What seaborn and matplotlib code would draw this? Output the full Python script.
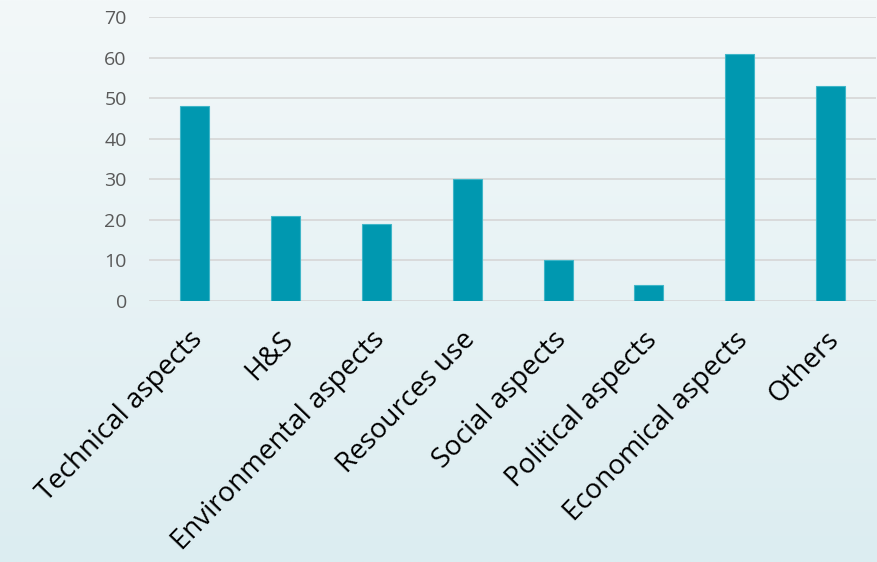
import numpy as np
import pandas as pd
import seaborn as sns
from matplotlib import pyplot as plt
from matplotlib.transforms import ScaledTranslation

categories = ["Technical aspects", "H&S", "Environmental aspects", "Resources use",
              "Social aspects", "Political aspects", "Economical aspects", "Others"]
values = [48, 21, 19, 30, 10, 4, 61, 53]
yticks = [0, 10, 20, 30, 40, 50, 60, 70]

df = pd.DataFrame({"category": categories, "count": values})

sns.set_theme(style="white")
plt.rcParams["font.family"] = ["Open Sans", "DejaVu Sans"]

fig = plt.figure(figsize=(8.77, 5.62), dpi=100)

# soft bluish background like the slide
bg = fig.add_axes([0, 0, 1, 1], zorder=-10)
grad = np.linspace(0, 1, 256)
img = np.outer(grad, np.ones(256))
bg.imshow(img, cmap=sns.blend_palette(["#f3f8f9", "#dcedf1"], as_cmap=True),
          aspect="auto", extent=[0, 1, 0, 1], origin="upper")
bg.axis("off")

ax = fig.add_axes([0.170, 0.4644, 0.829, 0.5053])
ax.set_facecolor("none")
sns.barplot(data=df, x="category", y="count", color="#0098b0", width=0.32,
            edgecolor="#3fb6c8", linewidth=0.8, saturation=1, ax=ax, zorder=3)

ax.set_ylim(0, 70)
ax.set_xlim(-0.5, len(categories) - 0.5)
ax.set_yticks(yticks)
ax.yaxis.grid(True, color="#d6d6d6", linewidth=1.2, zorder=0)
ax.set_axisbelow(True)
for s in ax.spines.values():
    s.set_visible(False)
ax.set_xlabel("")
ax.set_ylabel("")
ax.tick_params(axis="y", length=0, pad=16, labelsize=14, labelcolor="#595959")
ax.tick_params(axis="x", length=0, pad=18)
ax.set_xticks(range(len(categories)))
ax.set_xticklabels(categories, rotation=46, ha="right", rotation_mode="anchor",
                   fontsize=20, color="black")
# nudge labels a little left
shift = ScaledTranslation(-0.06, 0, fig.dpi_scale_trans)
for lbl in ax.get_xticklabels():
    lbl.set_transform(lbl.get_transform() + shift)

plt.savefig("out.png", dpi=100)
plt.close()
